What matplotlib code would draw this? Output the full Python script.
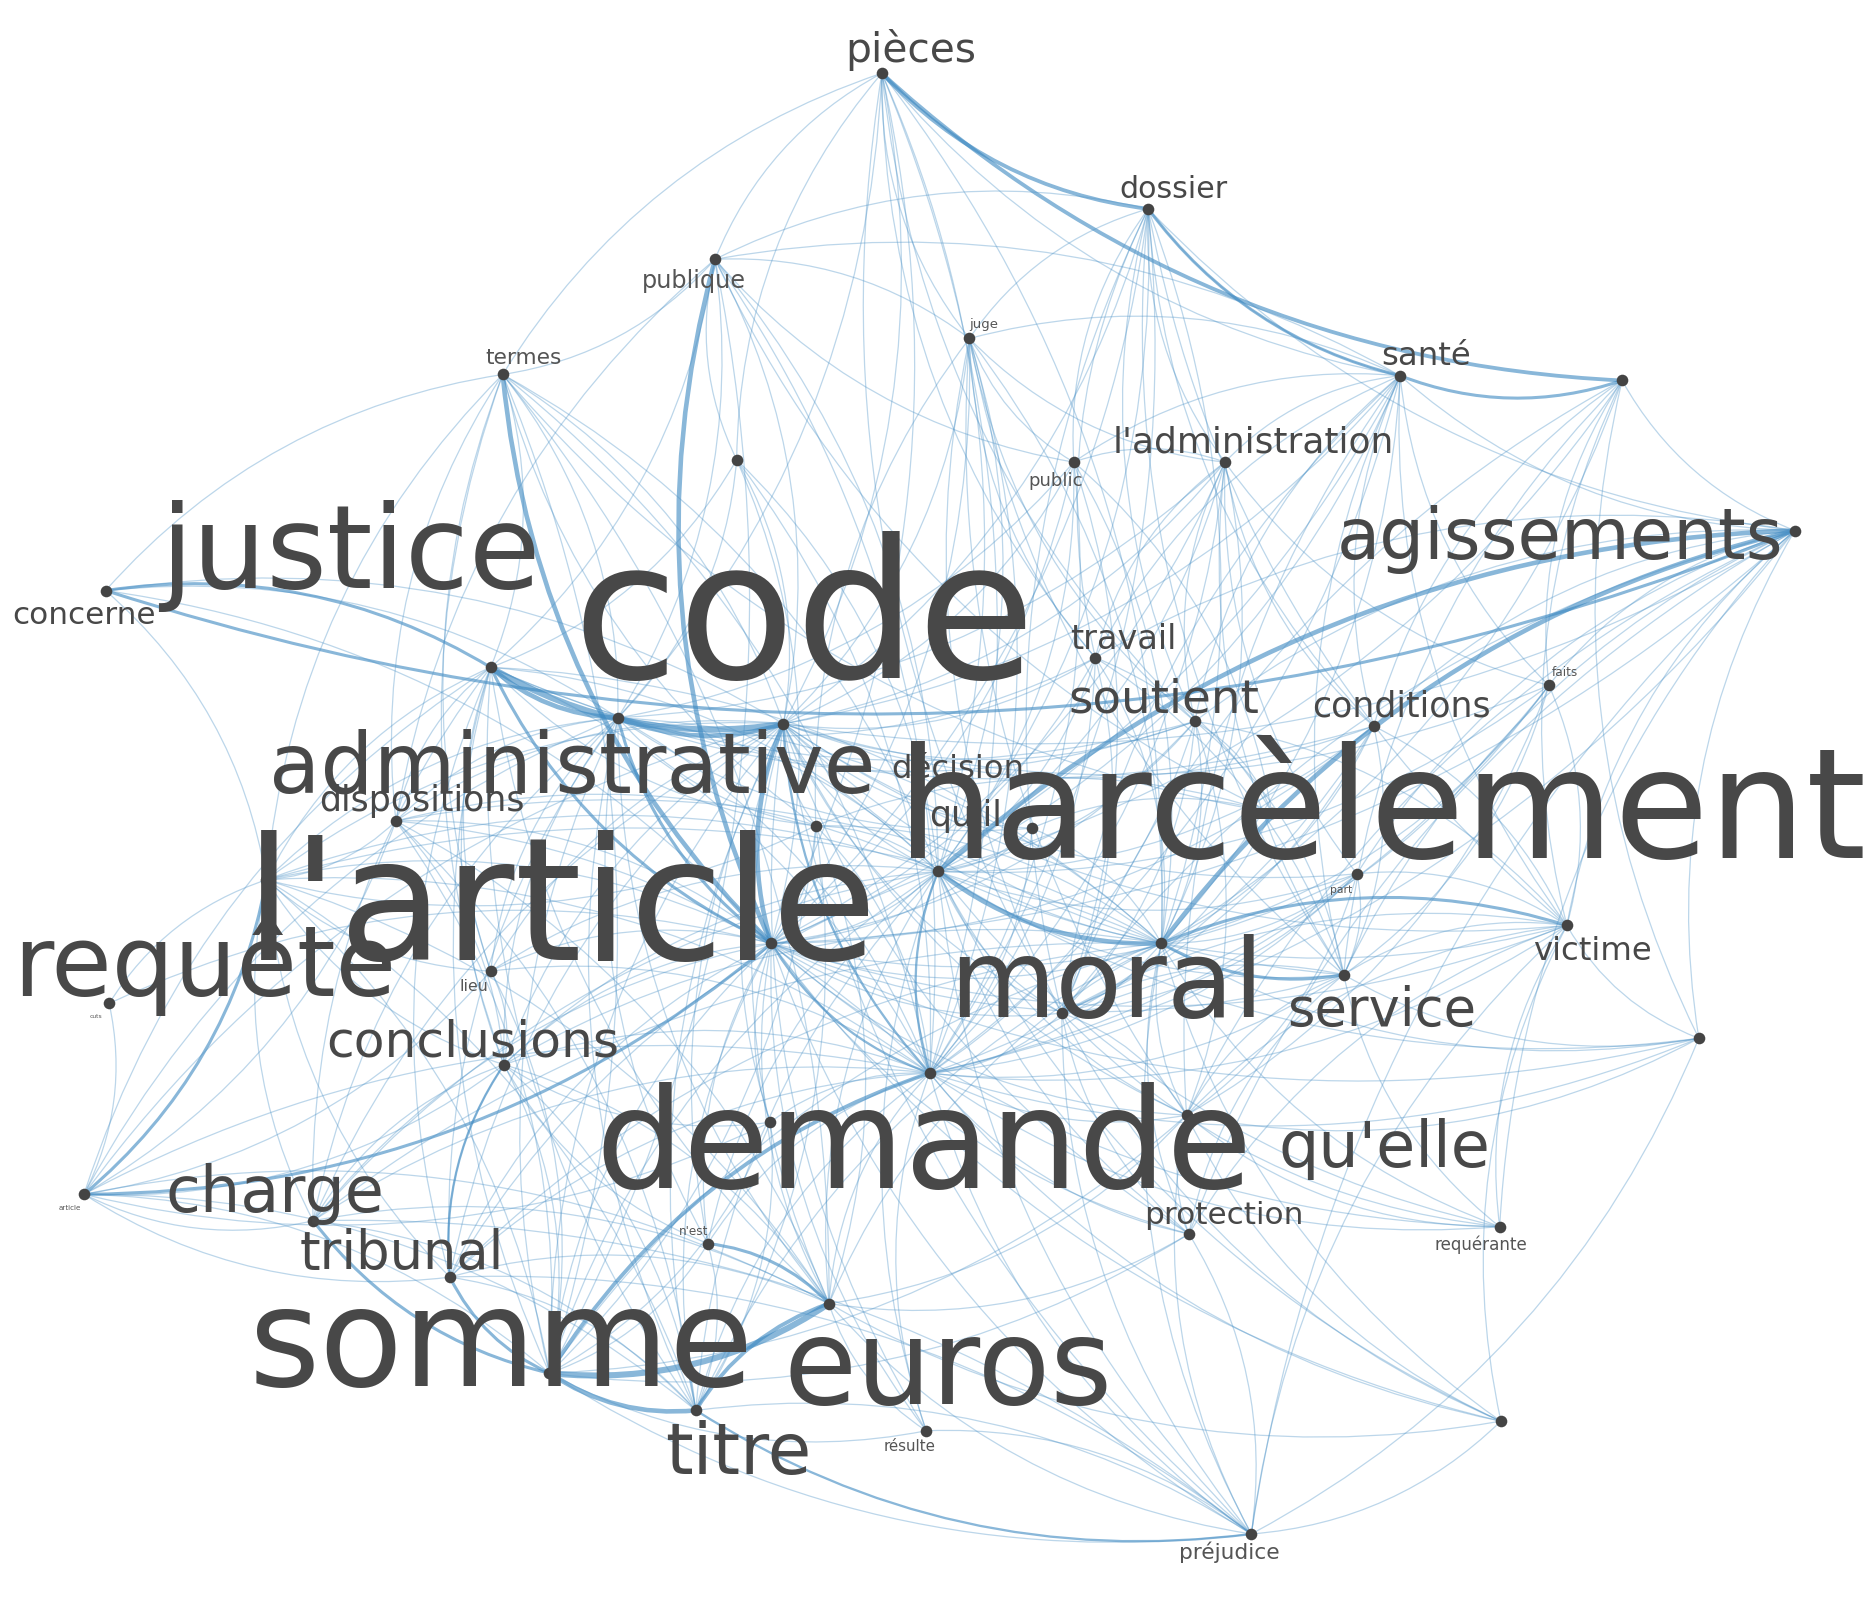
import matplotlib
matplotlib.use("Agg")
import matplotlib.pyplot as plt
from matplotlib.patches import FancyArrowPatch

# nodes: name -> (x, y) in reference display pixels
node_names = ["pièces", "dossier", "publique", "juge", "termes", "santé", "n1", "n2", "public",
              "l'administration", "agissements", "concerne", "justice", "code", "travail", "soutient",
              "faits", "conditions", "administrative", "décision", "dispositions", "harcèlement",
              "qu'il", "part", "l'article", "requête", "cuts", "lieu", "moral", "x1", "victime",
              "service", "conclusions", "demande", "qu'elle", "x2", "article", "charge", "tribunal",
              "n'est", "protection", "requérante", "somme", "euros", "titre", "résulte", "x3",
              "préjudice", "x5", "x6"]
node_x = [735, 957, 596, 808, 419, 1167, 1352, 614, 895, 1021, 1496, 88, 409, 653, 913, 996,
          1291, 1145, 515, 680, 330, 782, 860, 1131, 643, 222, 91, 409, 968, 885, 1306, 1120,
          420, 775, 989, 1416, 70, 261, 375, 590, 991, 1250, 458, 691, 580, 772, 1251, 1043,
          642, 1060]
node_y = [61, 174, 216, 282, 312, 313, 317, 383, 385, 385, 442, 492, 556, 603, 548, 601, 571,
          605, 598, 688, 684, 726, 690, 728, 786, 733, 836, 809, 786, 844, 771, 812, 887, 894,
          929, 865, 995, 1017, 1064, 1036, 1028, 1022, 1144, 1086, 1175, 1192, 1184, 1278, 935,
          677]
pos = {n: (x, y) for n, x, y in zip(node_names, node_x, node_y)}

# labels: text, x center, baseline y, size in display px
label_text = ["code", "harcèlement", "l'article", "demande", "somme", "euros", "justice", "moral",
              "requête", "agissements", "administrative", "qu'elle", "charge", "titre", "tribunal",
              "service", "conclusions", "soutient", "l'administration", "conditions", "dispositions",
              "pièces", "travail", "victime", "protection", "santé", "dossier", "concerne",
              "décision", "qu'il", "publique", "préjudice", "termes", "requérante", "résulte",
              "lieu", "public", "juge", "faits", "part", "n'est", "article", "cuts"]
label_x = [670, 1152, 468, 770, 418, 790, 292, 922, 171, 1300, 477, 1154, 229, 615, 335, 1152,
           394, 970, 1045, 1168, 352, 759, 936, 1327, 1020, 1189, 978, 70, 798, 805, 578, 1025,
           436, 1234, 758, 395, 880, 820, 1304, 1118, 578, 58, 80]
label_y = [565, 715, 800, 990, 1155, 1170, 490, 847, 830, 466, 660, 972, 1010, 1228, 1057, 855,
           880, 594, 377, 597, 676, 52, 541, 800, 1020, 304, 165, 520, 648, 688, 240, 1299, 303,
           1041, 1209, 826, 405, 273, 563, 744, 1029, 1008, 848]
label_px = [160, 128, 143, 116, 114, 99, 97, 91, 82, 59, 70, 53, 53, 59, 44, 44, 42, 39, 30, 29,
            29, 34, 28, 27, 26, 27, 25, 26, 27, 29, 20, 18, 18, 14, 12.5, 13, 15, 11, 10, 9, 10,
            6, 5]

# strong edges with weights
strong = [("justice", "code", 4), ("justice", "administrative", 3), ("administrative", "code", 3),
          ("code", "l'article", 3), ("harcèlement", "moral", 3), ("somme", "euros", 4),
          ("somme", "titre", 3), ("pièces", "dossier", 2.5), ("pièces", "n1", 2.5),
          ("dossier", "santé", 2), ("santé", "n1", 2), ("agissements", "harcèlement", 3),
          ("agissements", "moral", 3), ("concerne", "agissements", 2), ("termes", "l'article", 3),
          ("publique", "l'article", 3), ("demande", "somme", 2.5), ("euros", "titre", 2.5),
          ("charge", "somme", 2), ("tribunal", "somme", 2), ("article", "l'article", 2),
          ("article", "requête", 2), ("justice", "concerne", 2), ("administrative", "l'article", 2),
          ("victime", "moral", 2), ("moral", "service", 2), ("euros", "n'est", 2),
          ("titre", "préjudice", 1.5), ("conclusions", "tribunal", 1.5), ("justice", "l'article", 2),
          ("code", "demande", 1.5), ("l'article", "demande", 1.5), ("harcèlement", "demande", 1.5)]

# thin edges: hub -> neighbours
adjacency = [
    "code: pièces|dossier|publique|juge|termes|santé|n2|public|l'administration|agissements|concerne|travail|soutient|faits|conditions|décision|dispositions|harcèlement|qu'il|part|requête|lieu|moral|x1|victime|service|conclusions|qu'elle|charge|tribunal|n'est|protection|somme|euros|titre|résulte|préjudice|x5|article",
    "l'article: pièces|dossier|juge|santé|n2|public|l'administration|agissements|concerne|travail|soutient|conditions|décision|dispositions|harcèlement|qu'il|part|requête|cuts|lieu|moral|x1|victime|service|conclusions|qu'elle|x2|charge|tribunal|n'est|protection|requérante|somme|euros|titre|résulte|x3|préjudice|x5",
    "harcèlement: pièces|dossier|publique|juge|termes|santé|n1|n2|public|l'administration|justice|travail|soutient|faits|conditions|administrative|décision|dispositions|qu'il|part|requête|lieu|x1|victime|service|conclusions|qu'elle|x2|charge|tribunal|n'est|protection|requérante|somme|euros|titre|résulte|x3|préjudice",
    "demande: pièces|dossier|publique|juge|termes|santé|n2|public|l'administration|agissements|justice|travail|soutient|faits|conditions|administrative|décision|dispositions|qu'il|part|requête|lieu|moral|x1|victime|service|conclusions|qu'elle|x2|article|charge|tribunal|n'est|protection|requérante|euros|titre|résulte|x3|préjudice|x5",
    "moral: pièces|dossier|juge|santé|n1|public|l'administration|justice|travail|soutient|faits|conditions|administrative|décision|dispositions|qu'il|part|requête|x1|conclusions|qu'elle|x2|charge|tribunal|protection|requérante|somme|euros|titre|x3|préjudice",
    "administrative: pièces|publique|termes|n2|public|l'administration|concerne|travail|soutient|dispositions|décision|qu'il|requête|lieu|conclusions|charge|tribunal|n'est|somme|euros|titre|article",
    "justice: termes|publique|n2|dispositions|requête|lieu|conclusions|charge|tribunal|somme|euros|titre|article|décision|soutient|conditions",
    "somme: termes|publique|dispositions|requête|lieu|conclusions|article|n'est|décision|qu'elle|protection|résulte|préjudice|x5",
    "euros: termes|dispositions|requête|conclusions|article|charge|tribunal|décision|qu'elle|protection|résulte|x3|préjudice",
    "titre: dispositions|requête|conclusions|article|charge|tribunal|n'est|x5|décision",
    "pièces: juge|publique|termes|santé|soutient|travail|x1|n2",
    "dossier: publique|juge|santé|public|l'administration|soutient|conditions|travail|victime|service|x1|agissements",
    "santé: juge|publique|public|l'administration|agissements|travail|soutient|conditions|faits|victime|service|x1|qu'elle",
    "n1: agissements|faits|victime|service|conditions|x1|x2",
    "agissements: travail|soutient|conditions|faits|part|victime|service|x1|qu'elle|x2|requérante|protection|préjudice",
    "juge: publique|public|l'administration|soutient|travail|x1|service|qu'elle|décision",
    "termes: publique|dispositions|requête|lieu|conclusions|concerne|décision|x6",
    "victime: faits|part|service|conditions|soutient|x1|qu'elle|x2|requérante|protection|x3|préjudice",
    "service: faits|part|conditions|soutient|travail|x1|qu'elle|protection|requérante|x2",
    "requête: concerne|cuts|dispositions|lieu|conclusions|charge|tribunal|décision",
    "article: cuts|dispositions|conclusions|charge|tribunal|lieu|x5",
    "qu'elle: x1|protection|requérante|x3|préjudice|x2|faits|part|soutient",
    "conclusions: lieu|charge|dispositions|x5|n'est|tribunal",
    "x1: soutient|travail|conditions|faits|part|protection|préjudice|x3|requérante|public|x6",
    "l'administration: public|travail|soutient|conditions|faits|service|part",
    "publique: n2|public|dispositions|x6",
    "préjudice: x3|protection|x2|charge|tribunal|résulte|titre",
    "x6: qu'il|décision|soutient|public|travail",
]

edges = [(a, b, w) for a, b, w in strong]
for line in adjacency:
    hub, rest = line.split(": ")
    for other in rest.split("|"):
        edges.append((hub, other, 0.7))

fig = plt.figure(figsize=(18.74, 16), dpi=100)
ax = fig.add_axes([0, 0, 1, 1])
ax.set_xlim(0, 1562)
ax.set_ylim(1333, 0)
ax.axis("off")

for a, b, w in edges:
    strong_edge = w > 1
    p = FancyArrowPatch(pos[a], pos[b], arrowstyle="-",
                        connectionstyle="arc3,rad=0.18",
                        color="#3a87c0" if strong_edge else "#4f94c8",
                        lw=w * 1.1 if strong_edge else 0.9,
                        alpha=0.6 if strong_edge else 0.38,
                        shrinkA=0, shrinkB=0, zorder=1)
    ax.add_patch(p)

ax.scatter(node_x, node_y, s=70, color="#444444", zorder=3, linewidths=0)

for t, x, y, px in zip(label_text, label_x, label_y, label_px):
    ax.text(x, y, t, ha="center", va="baseline", fontsize=px * 0.864,
            color="#484848" if px > 20 else "#555555", family="DejaVu Sans", zorder=4)

fig.savefig("out.png", dpi=100)
